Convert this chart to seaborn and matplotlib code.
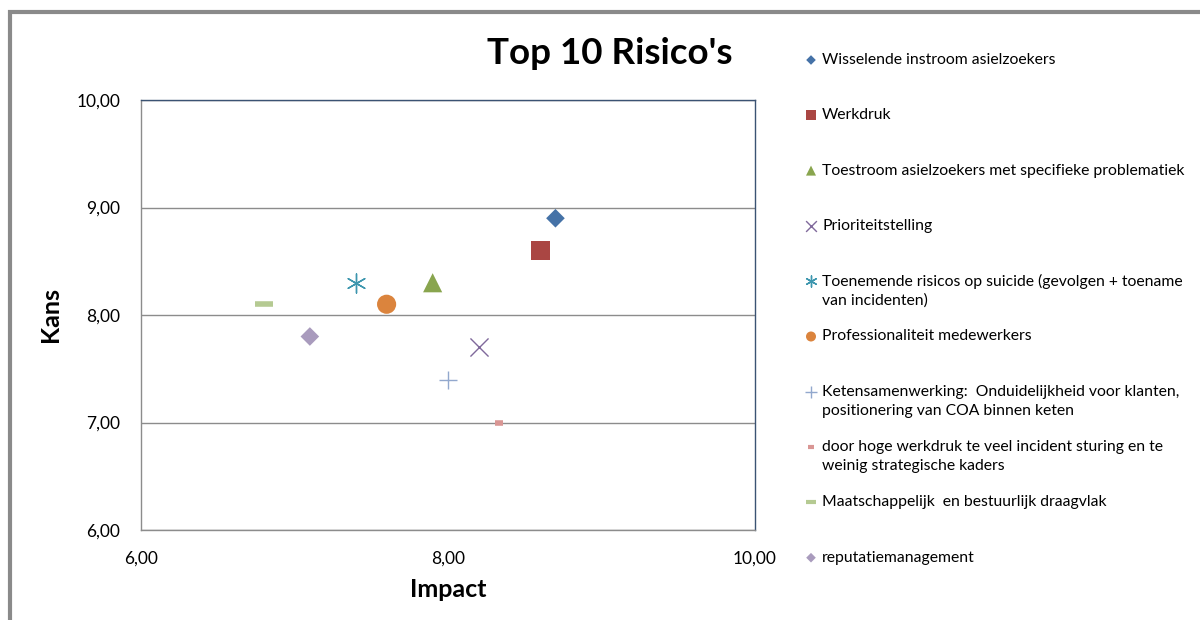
import numpy as np
import pandas as pd
import seaborn as sns
import matplotlib.pyplot as plt
from matplotlib.ticker import FuncFormatter, FixedLocator

# data
risks = ["Wisselende instroom asielzoekers",
         "Werkdruk",
         "Toestroom asielzoekers met specifieke problematiek",
         "Prioriteitstelling",
         "Toenemende risicos op suicide (gevolgen + toename\nvan incidenten)",
         "Professionaliteit medewerkers",
         "Ketensamenwerking:  Onduidelijkheid voor klanten,\npositionering van COA binnen keten",
         "door hoge werkdruk te veel incident sturing en te\nweinig strategische kaders",
         "Maatschappelijk  en bestuurlijk draagvlak",
         "reputatiemanagement"]
impact = [8.70, 8.60, 7.90, 8.20, 7.40, 7.60, 8.00, 8.33, 6.80, 7.10]
kans = [8.90, 8.60, 8.30, 7.70, 8.30, 8.10, 7.40, 7.00, 8.10, 7.80]

colors = ["#4572A7", "#AA4643", "#89A54E", "#80699B", "#3D96AE",
          "#DB843D", "#92A8CD", "#D99694", "#B5CA92", "#A99BBD"]
markers = ["D", "s", "^", "x", (6, 2, 0), "o", "+", "_", "_", "D"]
sizes = [90, 190, 190, 170, 190, 190, 170, 40, 160, 90]
lws = [0, 0, 0, 1.0, 1.0, 0, 1.0, 4, 4, 0]
leg_sizes = [24, 48, 52, 60, 65, 52, 65, 16, 60, 24]

df = pd.DataFrame({"risk": risks, "impact": impact, "kans": kans})

sns.set_theme(style="white")
plt.rcParams['font.family'] = ['Lato', 'DejaVu Sans']
plt.rcParams['text.color'] = 'black'
plt.rcParams['axes.labelcolor'] = 'black'

fig = plt.figure(figsize=(12, 6.2), dpi=100)
ax = fig.add_axes([141 / 1200, 90 / 620, 614 / 1200, 430 / 620])

for i, row in df.iterrows():
    filled = lws[i] == 0
    sns.scatterplot(x=[row["impact"]], y=[row["kans"]], marker=markers[i], s=sizes[i],
                    color=colors[i], edgecolor=colors[i] if not filled else "none",
                    linewidth=lws[i], ax=ax, zorder=3, legend=False)

ax.set_xlim(6, 10)
ax.set_ylim(6, 10)
ax.xaxis.set_major_locator(FixedLocator([6, 8, 10]))
ax.yaxis.set_major_locator(FixedLocator([6, 7, 8, 9, 10]))
fmt = FuncFormatter(lambda v, p: f"{v:.2f}".replace(".", ","))
ax.xaxis.set_major_formatter(fmt)
ax.yaxis.set_major_formatter(fmt)
ax.tick_params(length=0, labelsize=12.5, colors="black")
ax.tick_params(axis="x", pad=15)
ax.tick_params(axis="y", pad=15)
ax.grid(axis="y", color="#8c8c8c", linewidth=1)
ax.set_axisbelow(True)
for s in ["top", "right"]:
    ax.spines[s].set_color("#3b5373")
    ax.spines[s].set_linewidth(1)
for s in ["left", "bottom"]:
    ax.spines[s].set_color("#8c8c8c")
    ax.spines[s].set_linewidth(1)
ax.set_xlabel("Impact", fontsize=18, fontweight="bold", labelpad=8)
ax.set_ylabel("Kans", fontsize=18, fontweight="bold", labelpad=10)

fig.text(610 / 1200, 1 - 53 / 620, "Top 10 Risico's", fontsize=26.5, fontweight="bold",
         ha="center", va="center", color="black")

# legend drawn in its own axes, pixel units
lax = fig.add_axes([800 / 1200, 0, 400 / 1200, 1])
lax.set_xlim(800, 1200)
lax.set_ylim(620, 0)
lax.axis("off")
for i, lab in enumerate(risks):
    y0 = 60 + 55.3 * i
    filled = lws[i] == 0
    sns.scatterplot(x=[811], y=[y0], marker=markers[i], s=leg_sizes[i], color=colors[i],
                    edgecolor=colors[i] if not filled else "none",
                    linewidth=min(lws[i], 3) if not filled else 0, ax=lax, legend=False)
    for k, line in enumerate(lab.split("\n")):
        lax.text(822, y0 + 19 * k, line, fontsize=11.3, va="center", ha="left", color="black")

# outer chart border
fig.patches.append(plt.Rectangle((10 / 1200, -0.1), 2, 1 - 12 / 620 + 0.1,
                                 transform=fig.transFigure, fill=False,
                                 edgecolor="#8a8a8a", linewidth=3))

fig.savefig("out.png", dpi=100)
